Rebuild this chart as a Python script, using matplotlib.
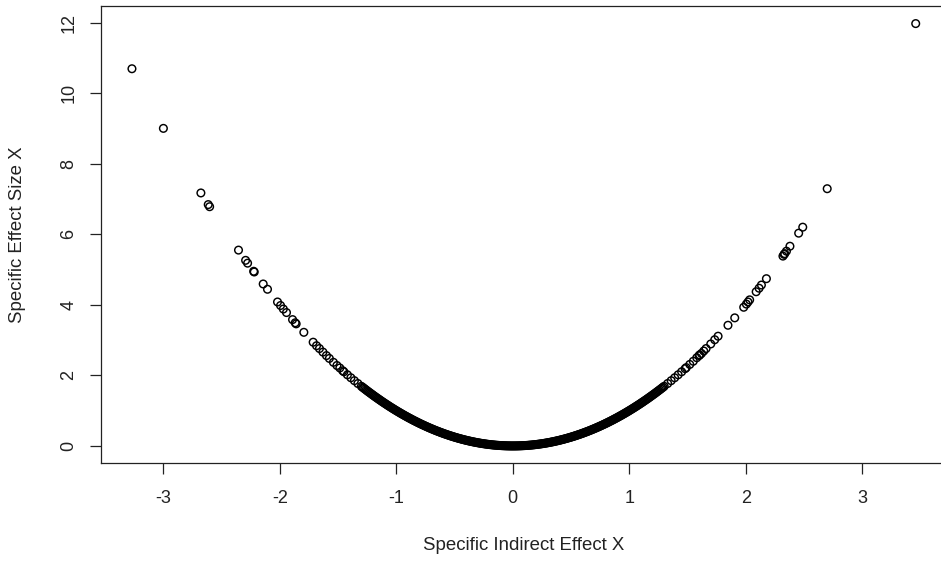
# effect_size_plot.py

import matplotlib.pyplot as plt

# dense core of the curve (|x| <= 1)
core_x = [
    -1.00, -0.99, -0.98, -0.97, -0.96, -0.95, -0.94, -0.93, -0.92, -0.91,
    -0.90, -0.89, -0.88, -0.87, -0.86, -0.85, -0.84, -0.83, -0.82, -0.81,
    -0.80, -0.79, -0.78, -0.77, -0.76, -0.75, -0.74, -0.73, -0.72, -0.71,
    -0.70, -0.69, -0.68, -0.67, -0.66, -0.65, -0.64, -0.63, -0.62, -0.61,
    -0.60, -0.59, -0.58, -0.57, -0.56, -0.55, -0.54, -0.53, -0.52, -0.51,
    -0.50, -0.49, -0.48, -0.47, -0.46, -0.45, -0.44, -0.43, -0.42, -0.41,
    -0.40, -0.39, -0.38, -0.37, -0.36, -0.35, -0.34, -0.33, -0.32, -0.31,
    -0.30, -0.29, -0.28, -0.27, -0.26, -0.25, -0.24, -0.23, -0.22, -0.21,
    -0.20, -0.19, -0.18, -0.17, -0.16, -0.15, -0.14, -0.13, -0.12, -0.11,
    -0.10, -0.09, -0.08, -0.07, -0.06, -0.05, -0.04, -0.03, -0.02, -0.01,
    0.00,
    0.01, 0.02, 0.03, 0.04, 0.05, 0.06, 0.07, 0.08, 0.09, 0.10,
    0.11, 0.12, 0.13, 0.14, 0.15, 0.16, 0.17, 0.18, 0.19, 0.20,
    0.21, 0.22, 0.23, 0.24, 0.25, 0.26, 0.27, 0.28, 0.29, 0.30,
    0.31, 0.32, 0.33, 0.34, 0.35, 0.36, 0.37, 0.38, 0.39, 0.40,
    0.41, 0.42, 0.43, 0.44, 0.45, 0.46, 0.47, 0.48, 0.49, 0.50,
    0.51, 0.52, 0.53, 0.54, 0.55, 0.56, 0.57, 0.58, 0.59, 0.60,
    0.61, 0.62, 0.63, 0.64, 0.65, 0.66, 0.67, 0.68, 0.69, 0.70,
    0.71, 0.72, 0.73, 0.74, 0.75, 0.76, 0.77, 0.78, 0.79, 0.80,
    0.81, 0.82, 0.83, 0.84, 0.85, 0.86, 0.87, 0.88, 0.89, 0.90,
    0.91, 0.92, 0.93, 0.94, 0.95, 0.96, 0.97, 0.98, 0.99, 1.00,
]
core_y = [
    1.0, 0.9801, 0.9604, 0.9409, 0.9216, 0.9025, 0.8836, 0.8649, 0.8464, 0.8281,
    0.81, 0.7921, 0.7744, 0.7569, 0.7396, 0.7225, 0.7056, 0.6889, 0.6724, 0.6561,
    0.64, 0.6241, 0.6084, 0.5929, 0.5776, 0.5625, 0.5476, 0.5329, 0.5184, 0.5041,
    0.49, 0.4761, 0.4624, 0.4489, 0.4356, 0.4225, 0.4096, 0.3969, 0.3844, 0.3721,
    0.36, 0.3481, 0.3364, 0.3249, 0.3136, 0.3025, 0.2916, 0.2809, 0.2704, 0.2601,
    0.25, 0.2401, 0.2304, 0.2209, 0.2116, 0.2025, 0.1936, 0.1849, 0.1764, 0.1681,
    0.16, 0.1521, 0.1444, 0.1369, 0.1296, 0.1225, 0.1156, 0.1089, 0.1024, 0.0961,
    0.09, 0.0841, 0.0784, 0.0729, 0.0676, 0.0625, 0.0576, 0.0529, 0.0484, 0.0441,
    0.04, 0.0361, 0.0324, 0.0289, 0.0256, 0.0225, 0.0196, 0.0169, 0.0144, 0.0121,
    0.01, 0.0081, 0.0064, 0.0049, 0.0036, 0.0025, 0.0016, 0.0009, 0.0004, 0.0001,
    0.0,
    0.0001, 0.0004, 0.0009, 0.0016, 0.0025, 0.0036, 0.0049, 0.0064, 0.0081, 0.01,
    0.0121, 0.0144, 0.0169, 0.0196, 0.0225, 0.0256, 0.0289, 0.0324, 0.0361, 0.04,
    0.0441, 0.0484, 0.0529, 0.0576, 0.0625, 0.0676, 0.0729, 0.0784, 0.0841, 0.09,
    0.0961, 0.1024, 0.1089, 0.1156, 0.1225, 0.1296, 0.1369, 0.1444, 0.1521, 0.16,
    0.1681, 0.1764, 0.1849, 0.1936, 0.2025, 0.2116, 0.2209, 0.2304, 0.2401, 0.25,
    0.2601, 0.2704, 0.2809, 0.2916, 0.3025, 0.3136, 0.3249, 0.3364, 0.3481, 0.36,
    0.3721, 0.3844, 0.3969, 0.4096, 0.4225, 0.4356, 0.4489, 0.4624, 0.4761, 0.49,
    0.5041, 0.5184, 0.5329, 0.5476, 0.5625, 0.5776, 0.5929, 0.6084, 0.6241, 0.64,
    0.6561, 0.6724, 0.6889, 0.7056, 0.7225, 0.7396, 0.7569, 0.7744, 0.7921, 0.81,
    0.8281, 0.8464, 0.8649, 0.8836, 0.9025, 0.9216, 0.9409, 0.9604, 0.9801, 1.0,
]

# shoulders, 1 < |x| < 1.45
shoulder_x = [
    -1.45, -1.42, -1.39, -1.36, -1.33, -1.30, -1.29, -1.28, -1.27, -1.26,
    -1.25, -1.24, -1.23, -1.22, -1.21, -1.20, -1.19, -1.18, -1.17, -1.16,
    -1.15, -1.14, -1.13, -1.12, -1.11, -1.10, -1.09, -1.08, -1.07, -1.06,
    -1.05, -1.04, -1.03, -1.02, -1.01,
    1.01, 1.02, 1.03, 1.04, 1.05, 1.06, 1.07, 1.08, 1.09, 1.10,
    1.11, 1.12, 1.13, 1.14, 1.15, 1.16, 1.17, 1.18, 1.19, 1.20,
    1.21, 1.22, 1.23, 1.24, 1.25, 1.26, 1.27, 1.28, 1.29, 1.30,
    1.33, 1.36, 1.39, 1.42, 1.45,
]
shoulder_y = [
    2.1025, 2.0164, 1.9321, 1.8496, 1.7689, 1.69, 1.6641, 1.6384, 1.6129, 1.5876,
    1.5625, 1.5376, 1.5129, 1.4884, 1.4641, 1.44, 1.4161, 1.3924, 1.3689, 1.3456,
    1.3225, 1.2996, 1.2769, 1.2544, 1.2321, 1.21, 1.1881, 1.1664, 1.1449, 1.1236,
    1.1025, 1.0816, 1.0609, 1.0404, 1.0201,
    1.0201, 1.0404, 1.0609, 1.0816, 1.1025, 1.1236, 1.1449, 1.1664, 1.1881, 1.21,
    1.2321, 1.2544, 1.2769, 1.2996, 1.3225, 1.3456, 1.3689, 1.3924, 1.4161, 1.44,
    1.4641, 1.4884, 1.5129, 1.5376, 1.5625, 1.5876, 1.6129, 1.6384, 1.6641, 1.69,
    1.7689, 1.8496, 1.9321, 2.0164, 2.1025,
]

# sparse tails
left_x = [
    -1.46, -1.485, -1.51, -1.54, -1.575, -1.60, -1.63, -1.66, -1.685, -1.714,
    -1.794, -1.86, -1.868, -1.891, -1.943, -1.97, -1.994, -2.02, -2.106, -2.143,
    -2.22, -2.225, -2.277, -2.294, -2.355, -2.603, -2.615, -2.678, -3.0, -3.27,
]
left_y = [
    2.13, 2.21, 2.28, 2.37, 2.48, 2.56, 2.66, 2.76, 2.84, 2.94,
    3.22, 3.46, 3.49, 3.58, 3.78, 3.88, 3.98, 4.08, 4.44, 4.59,
    4.93, 4.95, 5.18, 5.26, 5.55, 6.78, 6.84, 7.17, 9.0, 10.69,
]
right_x = [
    1.48, 1.49, 1.52, 1.55, 1.58, 1.60, 1.605, 1.62, 1.64, 1.66,
    1.70, 1.734, 1.763, 1.848, 1.906, 1.983, 2.006, 2.02, 2.034, 2.09,
    2.115, 2.135, 2.178, 2.32, 2.33, 2.335, 2.35, 2.38, 2.455, 2.49,
    2.70, 3.46,
]
right_y = [
    2.19, 2.22, 2.31, 2.40, 2.50, 2.56, 2.58, 2.62, 2.69, 2.76,
    2.89, 3.01, 3.11, 3.42, 3.63, 3.93, 4.02, 4.08, 4.14, 4.37,
    4.47, 4.56, 4.74, 5.38, 5.43, 5.45, 5.52, 5.66, 6.03, 6.20,
    7.29, 11.97,
]

x = core_x + shoulder_x + left_x + right_x
y = core_y + shoulder_y + left_y + right_y

plt.rcParams['font.family'] = ['Liberation Sans', 'DejaVu Sans']
plt.rcParams['axes.unicode_minus'] = False

fig = plt.figure(figsize=(9.41, 5.62), dpi=100)
ax = fig.add_axes([0.1073, 0.1767, 0.898, 0.8121])

ax.scatter(x, y, s=30, facecolors='none', edgecolors='black', linewidths=1.05)

ax.set_xlim(-3.536, 3.72)
ax.set_ylim(-0.475, 12.46)
ax.set_xticks([-3, -2, -1, 0, 1, 2, 3])
ax.set_yticks([0, 2, 4, 6, 8, 10, 12])

for s in ax.spines.values():
    s.set_linewidth(0.9)
    s.set_color('#222222')

ax.tick_params(axis='both', length=8, width=0.9, color='#222222',
               labelsize=13, labelcolor='#222222')
ax.tick_params(axis='x', pad=12)
ax.tick_params(axis='y', pad=9)
for lab in ax.get_yticklabels():
    lab.set_rotation(90)
    lab.set_va('center')

ax.set_xlabel("Specific Indirect Effect X", fontsize=13.4, color='#222222')
ax.set_ylabel("Specific Effect Size X", fontsize=13.4, color='#222222')
ax.xaxis.set_label_coords(0.5, -0.1825)
ax.yaxis.set_label_coords(-0.0982, 0.5)
ax.xaxis.label.set_va('center')
ax.yaxis.label.set_va('center')

plt.savefig("out.png", dpi=100)
